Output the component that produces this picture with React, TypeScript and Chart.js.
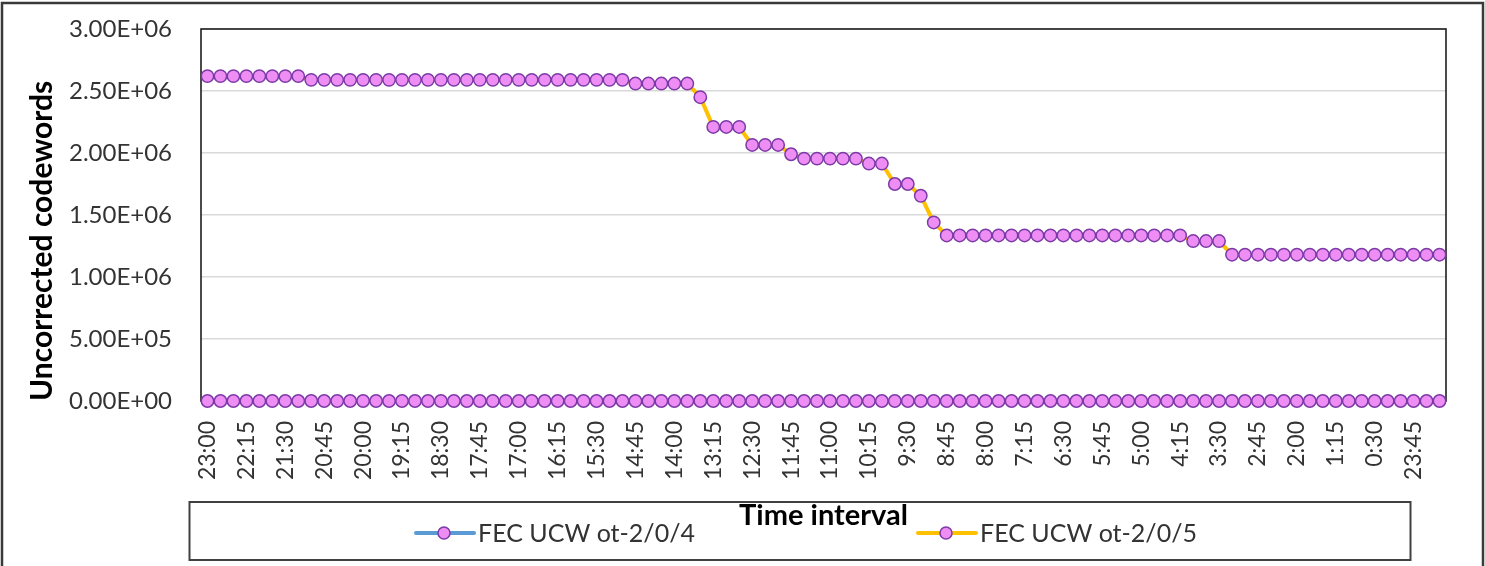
import { useEffect, useRef } from 'react';
import { Chart, registerables } from 'chart.js';

Chart.register(...registerables);

// ---------- data ----------
const timeLabels = [
  '23:00', '22:45', '22:30', '22:15', '22:00', '21:45', '21:30', '21:15',
  '21:00', '20:45', '20:30', '20:15', '20:00', '19:45', '19:30', '19:15',
  '19:00', '18:45', '18:30', '18:15', '18:00', '17:45', '17:30', '17:15',
  '17:00', '16:45', '16:30', '16:15', '16:00', '15:45', '15:30', '15:15',
  '15:00', '14:45', '14:30', '14:15', '14:00', '13:45', '13:30', '13:15',
  '13:00', '12:45', '12:30', '12:15', '12:00', '11:45', '11:30', '11:15',
  '11:00', '10:45', '10:30', '10:15', '10:00', '9:45', '9:30', '9:15',
  '9:00', '8:45', '8:30', '8:15', '8:00', '7:45', '7:30', '7:15',
  '7:00', '6:45', '6:30', '6:15', '6:00', '5:45', '5:30', '5:15',
  '5:00', '4:45', '4:30', '4:15', '4:00', '3:45', '3:30', '3:15',
  '3:00', '2:45', '2:30', '2:15', '2:00', '1:45', '1:30', '1:15',
  '1:00', '0:45', '0:30', '0:15', '0:00', '23:45', '23:30', '23:15',
];

const ucwPort4 = [
  0, 0, 0, 0, 0, 0, 0, 0,
  0, 0, 0, 0, 0, 0, 0, 0,
  0, 0, 0, 0, 0, 0, 0, 0,
  0, 0, 0, 0, 0, 0, 0, 0,
  0, 0, 0, 0, 0, 0, 0, 0,
  0, 0, 0, 0, 0, 0, 0, 0,
  0, 0, 0, 0, 0, 0, 0, 0,
  0, 0, 0, 0, 0, 0, 0, 0,
  0, 0, 0, 0, 0, 0, 0, 0,
  0, 0, 0, 0, 0, 0, 0, 0,
  0, 0, 0, 0, 0, 0, 0, 0,
  0, 0, 0, 0, 0, 0, 0, 0,
];

const ucwPort5 = [
  2620000, 2620000, 2620000, 2620000, 2620000, 2620000, 2620000, 2620000,
  2590000, 2590000, 2590000, 2590000, 2590000, 2590000, 2590000, 2590000,
  2590000, 2590000, 2590000, 2590000, 2590000, 2590000, 2590000, 2590000,
  2590000, 2590000, 2590000, 2590000, 2590000, 2590000, 2590000, 2590000,
  2590000, 2560000, 2560000, 2560000, 2560000, 2560000, 2450000, 2210000,
  2210000, 2210000, 2065000, 2065000, 2065000, 1990000, 1955000, 1955000,
  1955000, 1955000, 1955000, 1915000, 1915000, 1750000, 1750000, 1655000,
  1440000, 1335000, 1335000, 1335000, 1335000, 1335000, 1335000, 1335000,
  1335000, 1335000, 1335000, 1335000, 1335000, 1335000, 1335000, 1335000,
  1335000, 1335000, 1335000, 1335000, 1290000, 1290000, 1290000, 1180000,
  1180000, 1180000, 1180000, 1180000, 1180000, 1180000, 1180000, 1180000,
  1180000, 1180000, 1180000, 1180000, 1180000, 1180000, 1180000, 1180000,
];

const seriesNames = ['FEC UCW ot-2/0/4', 'FEC UCW ot-2/0/5'];
const seriesLineColors = ['#5b9bd5', '#ffc000'];
const yAxisTitle = 'Uncorrected codewords';
const xAxisTitle = 'Time interval';
const yMin = 0;
const yMax = 3000000;
const yStep = 500000;
const labelEvery = 3;

// ---------- style ----------
const FONT = 'Lato';
const TEXT = '#333333';
const MARKER_FILL = '#ee8ef5';
const MARKER_EDGE = '#7b3aa6';

function sci(v: number): string {
  const [m, e] = Number(v).toExponential(2).split('e');
  const sign = e[0] === '-' ? '-' : '+';
  const digits = e.replace(/^[+-]/, '').padStart(2, '0');
  return `${m}E${sign}${digits}`;
}

const framePlugin = {
  id: 'excelFrame',
  beforeDraw(chart: any) {
    const { ctx, width, height } = chart;
    ctx.save();
    ctx.fillStyle = '#ffffff';
    ctx.fillRect(0, 0, width, height);
    ctx.restore();
  },
  beforeDatasetsDraw(chart: any) {
    const { ctx, chartArea } = chart;
    ctx.save();
    ctx.strokeStyle = '#1f1f1f';
    ctx.lineWidth = 1.6;
    ctx.strokeRect(chartArea.left, chartArea.top, chartArea.right - chartArea.left, chartArea.bottom - chartArea.top);
    ctx.restore();
  },
  afterDraw(chart: any) {
    const { ctx, width, height } = chart;
    ctx.save();
    // outer frame
    ctx.strokeStyle = '#3a3a3a';
    ctx.lineWidth = 2.5;
    ctx.strokeRect(2, 3, width - 4, height + 4);
    // legend box
    ctx.strokeStyle = '#404040';
    ctx.lineWidth = 2;
    ctx.strokeRect(189.5, 502, 1221, 58);
    const itemX = [416, 918];
    const cy = 533;
    chart.data.datasets.forEach((ds: any, i: number) => {
      const x0 = itemX[i];
      ctx.strokeStyle = ds.borderColor;
      ctx.lineWidth = 4;
      ctx.lineCap = 'round';
      ctx.beginPath();
      ctx.moveTo(x0, cy);
      ctx.lineTo(x0 + 58, cy);
      ctx.stroke();
      ctx.beginPath();
      ctx.arc(x0 + 28, cy, 6, 0, Math.PI * 2);
      ctx.fillStyle = ds.pointBackgroundColor;
      ctx.fill();
      ctx.lineWidth = 1.5;
      ctx.strokeStyle = ds.pointBorderColor;
      ctx.stroke();
      ctx.fillStyle = TEXT;
      ctx.font = `25px ${FONT}`;
      ctx.textAlign = 'left';
      ctx.textBaseline = 'middle';
      ctx.fillText(ds.label, x0 + 62, cy + 1);
    });
    ctx.restore();
  },
};

export default function App() {
  const canvasRef = useRef<HTMLCanvasElement | null>(null);

  useEffect(() => {
    if (!canvasRef.current) return;
    const makeDs = (label: string, data: number[], color: string) => ({
      label,
      data,
      borderColor: color,
      backgroundColor: color,
      borderWidth: 4,
      pointRadius: 6.2,
      pointBorderWidth: 1.5,
      pointBackgroundColor: MARKER_FILL,
      pointBorderColor: MARKER_EDGE,
      tension: 0,
      clip: false as const,
    });
    const chart = new Chart(canvasRef.current, {
      type: 'line',
      data: {
        labels: timeLabels,
        datasets: [
          makeDs(seriesNames[0], ucwPort4, seriesLineColors[0]),
          makeDs(seriesNames[1], ucwPort5, seriesLineColors[1]),
        ],
      },
      options: {
        responsive: false,
        animation: false,
        events: [],
        layout: { padding: { top: 29, right: 39, bottom: 0, left: 0 } },
        plugins: {
          legend: { display: false },
          tooltip: { enabled: false },
        },
        scales: {
          x: {
            type: 'category',
            offset: true,
            grid: { display: false, drawTicks: false },
            border: { display: false },
            ticks: {
              autoSkip: false,
              minRotation: 90,
              maxRotation: 90,
              padding: 20,
              color: TEXT,
              font: { family: FONT, size: 23 },
              callback: (_v: any, i: number) => (i % labelEvery === 0 ? timeLabels[i] : ''),
            },
            title: {
              display: true,
              text: xAxisTitle,
              color: '#000000',
              font: { family: FONT, size: 29, weight: 'bold' },
              padding: { top: 0, bottom: 33 },
            },
            afterFit: (scale: any) => {
              scale.height = 165;
              scale.paddingLeft = 0;
              scale.paddingRight = 0;
            },
          },
          y: {
            min: yMin,
            max: yMax,
            grid: { color: '#d9d9d9', lineWidth: 1.5, drawTicks: false },
            border: { display: false },
            ticks: {
              stepSize: yStep,
              padding: 29,
              color: TEXT,
              font: { family: FONT, size: 24 },
              callback: (v: any) => sci(Number(v)),
            },
            title: {
              display: true,
              text: yAxisTitle,
              align: 'start',
              color: '#000000',
              font: { family: FONT, size: 30, weight: 'bold' },
              padding: { top: 24, bottom: 0 },
            },
            afterFit: (scale: any) => {
              scale.width = 201;
              scale.paddingTop = 0;
              scale.paddingBottom = 0;
            },
          },
        },
      },
      plugins: [framePlugin],
    });
    return () => chart.destroy();
  }, []);

  return (
    <div style={{ position: 'absolute', left: 0, top: 0, width: 1485, height: 566 }}>
      <canvas ref={canvasRef} width={1485} height={566} />
    </div>
  );
}
